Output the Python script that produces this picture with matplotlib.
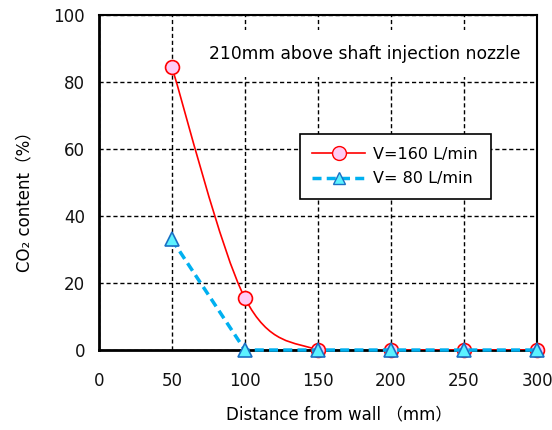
import numpy as np
import matplotlib
matplotlib.use("Agg")
import matplotlib.pyplot as plt
from matplotlib.path import Path
from matplotlib.patches import PathPatch
from matplotlib.lines import Line2D

plt.rcParams['font.family'] = ['DejaVu Sans', 'Noto Sans CJK JP']

distance = [50, 100, 150, 200, 250, 300]
co2_160 = [84.5, 15.5, 0, 0, 0, 0]
co2_80 = [33, 0, 0, 0, 0, 0]
xticks = [0, 50, 100, 150, 200, 250, 300]
yticks = [0, 20, 40, 60, 80, 100]

red = '#FF0000'
blue = '#00B0F0'
dash = (0, (2.6, 1.5))


def smooth_path(x, y):
    # Excel-style smoothed line: cubic Bezier through the points
    p = np.column_stack([x, y]).astype(float)
    n = len(p)
    verts = [p[0]]
    codes = [Path.MOVETO]
    for i in range(n - 1):
        prev = p[i - 1] if i > 0 else p[i]
        nxt = p[i + 2] if i + 2 < n else p[i + 1]
        c1 = p[i] + (p[i + 1] - prev) / 6
        c2 = p[i + 1] - (nxt - p[i]) / 6
        verts += [c1, c2, p[i + 1]]
        codes += [Path.CURVE4] * 3
    return Path(verts, codes)


fig = plt.figure(figsize=(5.52, 4.30), dpi=100)
ax = fig.add_axes([0.179, 0.186, 0.794, 0.779])

ax.add_patch(PathPatch(smooth_path(distance, co2_160), fill=False,
                       edgecolor=red, linewidth=1.2, zorder=3))
ax.plot(distance, co2_160, linestyle='none', marker='o', markersize=10,
        markerfacecolor='#FFCCF5', markeredgecolor=red, markeredgewidth=1.2,
        zorder=4, clip_on=False)
ax.plot(distance, co2_80, linestyle=dash, color=blue, linewidth=2.5,
        marker='^', markersize=10, markerfacecolor='#5CF2FF',
        markeredgecolor='#1A6FC4', markeredgewidth=1.2, zorder=5, clip_on=False)

ax.set_xlim(0, 300)
ax.set_ylim(0, 100)
ax.set_xticks(xticks)
ax.set_yticks(yticks)
ax.tick_params(length=0, labelsize=12, pad=10, colors='#111111')
ax.tick_params(axis='x', pad=16)
ax.grid(True, color='black', linestyle=(0, (3, 2)), linewidth=1)
ax.set_axisbelow(True)
for side in ['left', 'bottom']:
    ax.spines[side].set_linewidth(2)
for side in ['top', 'right']:
    ax.spines[side].set_linewidth(1.5)

ax.set_xlabel('Distance from wall （mm）', fontsize=12)
ax.xaxis.set_label_coords(0.548, -0.165)
ax.set_ylabel('CO₂ content（%）', fontsize=12)
ax.yaxis.set_label_coords(-0.15, 0.454)

ax.text(182, 88.5, '210mm above shaft injection nozzle', fontsize=12.3,
        ha='center', va='center', zorder=2,
        bbox=dict(boxstyle='square,pad=0.85', facecolor='white',
                  edgecolor='none'))

handles = [
    Line2D([], [], color=red, linewidth=1.2, marker='o', markersize=10,
           markerfacecolor='#FFCCF5', markeredgecolor=red),
    Line2D([], [], color=blue, linewidth=2.5, linestyle=dash,
           marker='^', markersize=9, markerfacecolor='#5CF2FF',
           markeredgecolor='#1A6FC4'),
]
leg = ax.legend(handles, ['V=160 L/min', 'V= 80 L/min'], loc='upper left',
                bbox_to_anchor=(0.458, 0.645), borderaxespad=0,
                fontsize=11.5, fancybox=False, framealpha=1,
                edgecolor='black', borderpad=0.8, handlelength=3.3,
                handletextpad=0.5, labelspacing=0.6)
leg.get_frame().set_linewidth(1.2)

fig.savefig('out.png', dpi=100)
